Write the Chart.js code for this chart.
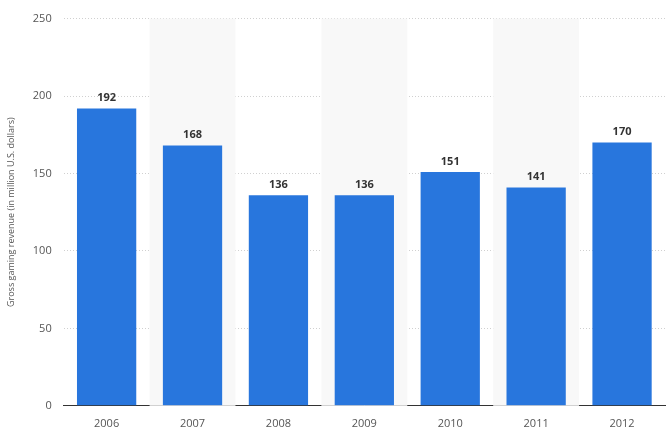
<!DOCTYPE html>
<html>
<head>
<script src="https://cdn.jsdelivr.net/npm/chart.js@4"></script>
<style>body{margin:0;background:#fff}#wrap{width:668px;height:431px}</style>
</head>
<body>
<div id="wrap"><canvas id="myChart"></canvas></div>
<script>
const years = ['2006', '2007', '2008', '2009', '2010', '2011', '2012'];
const revenue = [192, 168, 136, 136, 151, 141, 170];
const yTicks = [0, 50, 100, 150, 200, 250];

const bandsAndLabels = {
    id: 'bandsAndLabels',
    beforeDatasetsDraw(chart) {
        const {ctx, chartArea, scales: {x}} = chart;
        const w = x.getPixelForValue(1) - x.getPixelForValue(0);
        ctx.save();
        ctx.fillStyle = '#f8f8f8';
        years.forEach((y, i) => {
            if (i % 2 === 1) {
                ctx.fillRect(x.getPixelForValue(i) - w / 2, chartArea.top, w, chartArea.bottom - chartArea.top);
            }
        });
        ctx.restore();
    },
    afterDatasetsDraw(chart) {
        const {ctx} = chart;
        const meta = chart.getDatasetMeta(0);
        ctx.save();
        ctx.font = 'bold 11px "Open Sans", sans-serif';
        ctx.fillStyle = '#333';
        ctx.textAlign = 'center';
        ctx.textBaseline = 'bottom';
        meta.data.forEach((bar, i) => {
            ctx.fillText(revenue[i], bar.x, bar.y - 5);
        });
        ctx.restore();
    }
};

new Chart(document.getElementById('myChart'), {
    type: 'bar',
    data: {
        labels: years,
        datasets: [{
            data: revenue,
            backgroundColor: '#2876dd',
            categoryPercentage: 0.69,
            barPercentage: 1
        }]
    },
    options: {
        responsive: true,
        maintainAspectRatio: false,
        animation: false,
        layout: {padding: {top: 1, right: 3, left: 2, bottom: -2}},
        plugins: {legend: {display: false}, tooltip: {enabled: false}},
        scales: {
            x: {
                grid: {display: false},
                border: {color: '#333', width: 1},
                ticks: {color: '#555', font: {size: 11, family: '"Open Sans", sans-serif'}}
            },
            y: {
                min: 0, max: 250,
                afterBuildTicks(axis) { axis.ticks = yTicks.map(v => ({value: v})); },
                grid: {color: '#d0d0d0', drawTicks: false},
                border: {display: false, dash: [1, 2]},
                ticks: {color: '#555', padding: 12, font: {size: 11, family: '"Open Sans", sans-serif'}},
                title: {display: true, text: 'Gross gaming revenue (in million U.S. dollars)', color: '#555', font: {size: 9, family: '"Open Sans", sans-serif'}}
            }
        }
    },
    plugins: [bandsAndLabels]
});
</script>
</body>
</html>
